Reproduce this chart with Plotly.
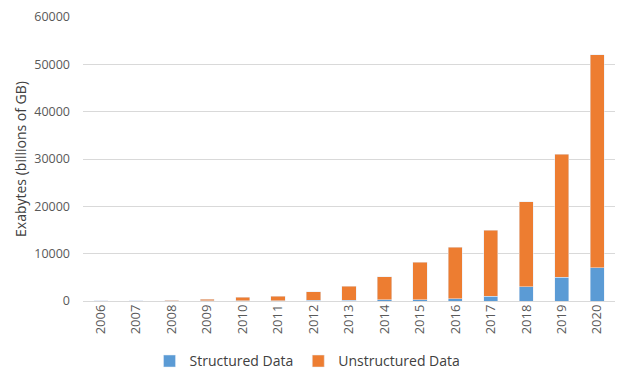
import plotly.graph_objects as go

years = [str(y) for y in range(2006, 2021)]
structured = [5, 10, 20, 40, 60, 90, 150, 200, 250, 250, 500, 1000, 3000, 5000, 7000]
unstructured = [25, 40, 180, 360, 740, 910, 1850, 2900, 4850, 7950, 10900, 14000, 18000, 26000, 45000]

fig = go.Figure()
fig.add_trace(go.Bar(x=years, y=structured, name="Structured Data", marker_color="#5B9BD5"))
fig.add_trace(go.Bar(x=years, y=unstructured, name="Unstructured Data", marker_color="#ED7D31"))

fig.update_layout(
    barmode="stack",
    bargap=0.6,
    width=624, height=378,
    margin=dict(l=75, r=17, t=9, b=85, autoexpand=False),
    paper_bgcolor="white", plot_bgcolor="white",
    font=dict(family="Open Sans", color="#595959", size=12),
    showlegend=True,
    legend=dict(orientation="h", xref="container", x=0.48, xanchor="center",
                yref="container", y=0.065, yanchor="middle", bgcolor="rgba(0,0,0,0)",
                itemwidth=30,
                font=dict(size=14, color="#404040"), traceorder="normal"),
    xaxis=dict(tickangle=-90, showgrid=False, showline=False, ticks="", automargin=False,
               ticklabeloverflow="allow",
               tickfont=dict(size=13, color="#595959")),
    yaxis=dict(range=[0, 60000], dtick=10000, showgrid=True, gridcolor="#D9D9D9",
               zeroline=True, zerolinecolor="#D9D9D9", zerolinewidth=1, automargin=False,
               ticklabelstandoff=12, ticklabeloverflow="allow",
               tickfont=dict(size=12.5, color="#595959"), tickformat="d",
               title=dict(text="Exabytes (billions of GB)", font=dict(size=14, color="#404040"), standoff=4)),
)

fig.write_html("out.html")
